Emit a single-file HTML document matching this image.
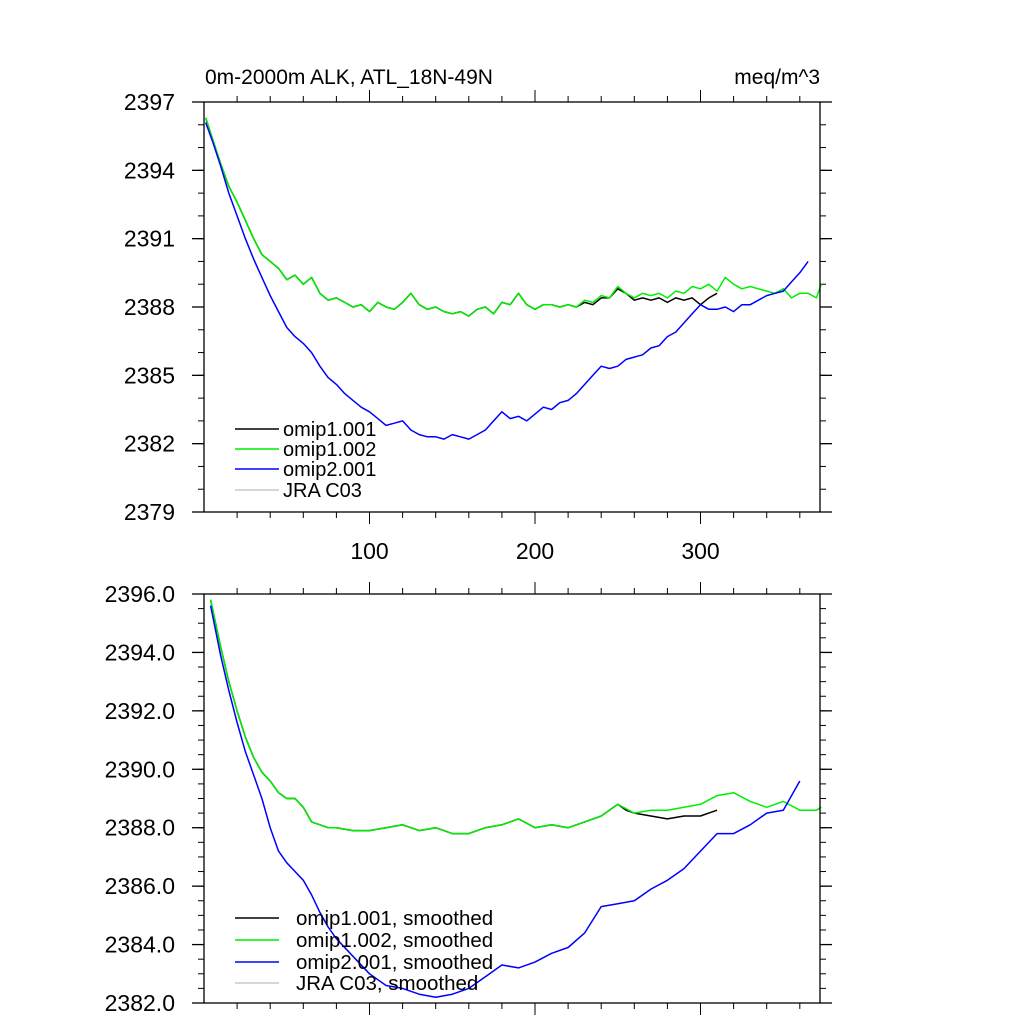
<!DOCTYPE html>
<html><head><meta charset="utf-8"><style>
html,body{margin:0;padding:0;background:#fff;}
svg{display:block;font-family:"Liberation Sans",sans-serif;}
</style></head><body>
<svg id="c" width="1024" height="1024" viewBox="0 0 1024 1024"></svg>
<script>
// ---- data (top panel, raw) ----
const tGreenTop=[1,5,10,15,20,25,30,35,40,45,50,55,60,65,70,75,80,85,90,95,100,105,110,115,120,125,130,135,140,145,150,155,160,165,170,175,180,185,190,195,200,205,210,215,220,225,230,235,240,245,250,255,260,265,270,275,280,285,290,295,300,305,310,315,320,325,330,335,340,345,350,355,360,365,370,373];
const vGreenTop=[2396.3,2395.4,2394.3,2393.3,2392.6,2391.8,2391.0,2390.3,2390.0,2389.7,2389.2,2389.4,2389.0,2389.3,2388.6,2388.3,2388.4,2388.2,2388.0,2388.1,2387.8,2388.2,2388.0,2387.9,2388.2,2388.6,2388.1,2387.9,2388.0,2387.8,2387.7,2387.8,2387.6,2387.9,2388.0,2387.7,2388.2,2388.1,2388.6,2388.1,2387.9,2388.1,2388.1,2388.0,2388.1,2388.0,2388.3,2388.2,2388.5,2388.4,2388.9,2388.6,2388.4,2388.6,2388.5,2388.6,2388.4,2388.7,2388.6,2388.9,2388.8,2389.0,2388.7,2389.3,2389.0,2388.8,2388.9,2388.8,2388.7,2388.6,2388.8,2388.4,2388.6,2388.6,2388.4,2389.0];
const tBlackTop=[1,5,10,15,20,25,30,35,40,45,50,55,60,65,70,75,80,85,90,95,100,105,110,115,120,125,130,135,140,145,150,155,160,165,170,175,180,185,190,195,200,205,210,215,220,225,230,235,240,245,250,255,260,265,270,275,280,285,290,295,300,305,310];
const vBlackTop=[2396.3,2395.4,2394.3,2393.3,2392.6,2391.8,2391.0,2390.3,2390.0,2389.7,2389.2,2389.4,2389.0,2389.3,2388.6,2388.3,2388.4,2388.2,2388.0,2388.1,2387.8,2388.2,2388.0,2387.9,2388.2,2388.6,2388.1,2387.9,2388.0,2387.8,2387.7,2387.8,2387.6,2387.9,2388.0,2387.7,2388.2,2388.1,2388.6,2388.1,2387.9,2388.1,2388.1,2388.0,2388.1,2388.0,2388.2,2388.1,2388.4,2388.4,2388.8,2388.6,2388.3,2388.4,2388.3,2388.4,2388.2,2388.4,2388.3,2388.4,2388.1,2388.4,2388.6];
const tBlueTop=[1,5,10,15,20,25,30,35,40,45,50,55,60,65,70,75,80,85,90,95,100,105,110,115,120,125,130,135,140,145,150,155,160,165,170,175,180,185,190,195,200,205,210,215,220,225,230,235,240,245,250,255,260,265,270,275,280,285,290,295,300,305,310,315,320,325,330,335,340,345,350,355,360,365];
const vBlueTop=[2396.1,2395.3,2394.2,2393.0,2392.0,2391.0,2390.1,2389.3,2388.5,2387.8,2387.1,2386.7,2386.4,2386.0,2385.4,2384.9,2384.6,2384.2,2383.9,2383.6,2383.4,2383.1,2382.8,2382.9,2383.0,2382.6,2382.4,2382.3,2382.3,2382.2,2382.4,2382.3,2382.2,2382.4,2382.6,2383.0,2383.4,2383.1,2383.2,2383.0,2383.3,2383.6,2383.5,2383.8,2383.9,2384.2,2384.6,2385.0,2385.4,2385.3,2385.4,2385.7,2385.8,2385.9,2386.2,2386.3,2386.7,2386.9,2387.3,2387.7,2388.1,2387.9,2387.9,2388.0,2387.8,2388.1,2388.1,2388.3,2388.5,2388.6,2388.7,2389.1,2389.5,2390.0];
// ---- data (bottom panel, smoothed) ----
const tGreenBot=[4,10,15,20,25,30,35,40,45,50,55,60,65,70,75,80,90,100,110,120,130,140,150,160,170,180,190,200,210,220,230,240,250,260,270,280,290,300,310,320,330,340,350,360,370,373];
const vGreenBot=[2395.8,2394.2,2393.0,2392.0,2391.1,2390.4,2389.9,2389.6,2389.2,2389.0,2389.0,2388.7,2388.2,2388.1,2388.0,2388.0,2387.9,2387.9,2388.0,2388.1,2387.9,2388.0,2387.8,2387.8,2388.0,2388.1,2388.3,2388.0,2388.1,2388.0,2388.2,2388.4,2388.8,2388.5,2388.6,2388.6,2388.7,2388.8,2389.1,2389.2,2388.9,2388.7,2388.9,2388.6,2388.6,2388.7];
const tBlackBot=[4,10,15,20,25,30,35,40,45,50,55,60,65,70,75,80,90,100,110,120,130,140,150,160,170,180,190,200,210,220,230,240,250,255,260,270,280,290,300,305,310];
const vBlackBot=[2395.8,2394.2,2393.0,2392.0,2391.1,2390.4,2389.9,2389.6,2389.2,2389.0,2389.0,2388.7,2388.2,2388.1,2388.0,2388.0,2387.9,2387.9,2388.0,2388.1,2387.9,2388.0,2387.8,2387.8,2388.0,2388.1,2388.3,2388.0,2388.1,2388.0,2388.2,2388.4,2388.8,2388.6,2388.5,2388.4,2388.3,2388.4,2388.4,2388.5,2388.6];
const tBlueBot=[4,10,15,20,25,30,35,40,45,50,55,60,65,70,75,80,90,100,110,120,130,140,150,160,170,180,190,200,210,220,230,240,250,260,270,280,290,300,310,320,330,340,350,360];
const vBlueBot=[2395.6,2393.9,2392.7,2391.6,2390.6,2389.8,2389.0,2388.0,2387.2,2386.8,2386.5,2386.2,2385.7,2385.1,2384.6,2384.2,2383.6,2383.0,2382.6,2382.5,2382.3,2382.2,2382.3,2382.5,2382.9,2383.3,2383.2,2383.4,2383.7,2383.9,2384.4,2385.3,2385.4,2385.5,2385.9,2386.2,2386.6,2387.2,2387.8,2387.8,2388.1,2388.5,2388.6,2389.6];
const xTicks=[100,200,300];
const yTicksTop=[2379,2382,2385,2388,2391,2394,2397];
const yTicksBot=[2382,2384,2386,2388,2390,2392,2394,2396];

const NS='http://www.w3.org/2000/svg';
const svg=document.getElementById('c');
const X0=204,X1=820,XMAX=372.2;
function sx(t){return X0+(X1-X0)*t/XMAX;}
function mk(tag,attrs,parent){const e=document.createElementNS(NS,tag);for(const k in attrs)e.setAttribute(k,attrs[k]);(parent||svg).appendChild(e);return e;}

function panel(name,top,bot,ymin,ymax,yTicks,yMinorStep,dec,showXLabels,series,legend,legY,legTextX,legFont){
  const g=mk('g',{});
  
  
  const sy=v=>bot-(bot-top)*(v-ymin)/(ymax-ymin);
  for(let v=ymin;v<=ymax+1e-9;v+=yMinorStep){
    const y=sy(v);
    mk('line',{x1:X0-6,x2:X0,y1:y,y2:y,stroke:'#000','stroke-width':1},g);
    mk('line',{x1:X1,x2:X1+6,y1:y,y2:y,stroke:'#000','stroke-width':1},g);
  }
  yTicks.forEach(v=>{
    const y=sy(v);
    mk('line',{x1:X0-12,x2:X0,y1:y,y2:y,stroke:'#000','stroke-width':1.3},g);
    mk('line',{x1:X1,x2:X1+12,y1:y,y2:y,stroke:'#000','stroke-width':1.3},g);
    const t=mk('text',{x:175,y:y+8,'text-anchor':'end','font-size':23},g);
    t.textContent=v.toFixed(dec);
    
    
  });
  for(let t=20;t<XMAX;t+=20){
    const x=sx(t),L=(t%100===0)?12:6;
    mk('line',{x1:x,x2:x,y1:top-L,y2:top,stroke:'#000','stroke-width':1},g);
    mk('line',{x1:x,x2:x,y1:bot,y2:bot+L,stroke:'#000','stroke-width':1},g);
  }
  if(showXLabels){
    xTicks.forEach(t=>{
      const tx=mk('text',{x:sx(t),y:bot+47,'text-anchor':'middle','font-size':23},g);
      tx.textContent=t;
      
      
    });
  }
  series.forEach(s=>{
    const d=s.t.map((t,i)=>(i?'L':'M')+sx(t).toFixed(1)+','+sy(s.v[i]).toFixed(1)).join('');
    const p=mk('path',{d:d,fill:'none',stroke:s.c,'stroke-width':1.5,'stroke-linejoin':'round'},g);
    
    
  });
  mk('rect',{x:X0,y:top,width:X1-X0,height:bot-top,fill:'none',stroke:'#000','stroke-width':1.3},g);
  legend.forEach((l,i)=>{
    const y=legY[i];
    const le=mk('g',{},g);
    
    
    mk('line',{x1:235,x2:279,y1:y,y2:y,stroke:l.c,'stroke-width':1.5},le);
    const tx=mk('text',{x:legTextX,y:y+7,'font-size':legFont},le);
    tx.textContent=l.n;
  });
}
panel('top-panel',102,512,2379,2397,yTicksTop,1,0,true,
 [{t:tBlackTop,v:vBlackTop,c:'#000',n:'line-omip1-001'},{t:tGreenTop,v:vGreenTop,c:'#00ee00',n:'line-omip1-002'},{t:tBlueTop,v:vBlueTop,c:'#0000ff',n:'line-omip2-001'}],
 [{n:'omip1.001',c:'#000'},{n:'omip1.002',c:'#00ee00'},{n:'omip2.001',c:'#0000ff'},{n:'JRA C03',c:'#c8c8c8'}],[429,449,469,490],283,20);
panel('bottom-panel',594,1003,2382,2396,yTicksBot,0.5,1,false,
 [{t:tBlackBot,v:vBlackBot,c:'#000',n:'line-omip1-001-smoothed'},{t:tGreenBot,v:vGreenBot,c:'#00ee00',n:'line-omip1-002-smoothed'},{t:tBlueBot,v:vBlueBot,c:'#0000ff',n:'line-omip2-001-smoothed'}],
 [{n:'omip1.001, smoothed',c:'#000'},{n:'omip1.002, smoothed',c:'#00ee00'},{n:'omip2.001, smoothed',c:'#0000ff'},{n:'JRA C03, smoothed',c:'#c8c8c8'}],[918,940,962,983],296,20.5);
const t1=mk('text',{x:205,y:84,'font-size':21});
t1.textContent='0m-2000m ALK, ATL_18N-49N';


const t2=mk('text',{x:820,y:84,'font-size':21,'text-anchor':'end'});
t2.textContent='meq/m^3';


</script>
</body></html>
